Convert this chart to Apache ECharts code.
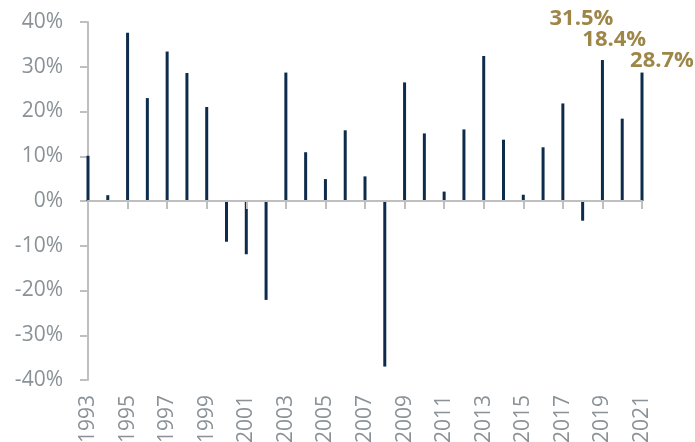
<!DOCTYPE html>
<html>
<head>
<meta charset="utf-8">
<script src="https://cdn.jsdelivr.net/npm/echarts@6/dist/echarts.min.js"></script>
<style>
  html, body { margin: 0; padding: 0; background: #fff; }
  #chart { width: 695px; height: 442px; }
</style>
</head>
<body>
<div id="chart"></div>
<script>
// annual returns, %
const years = ['1993', '1994', '1995', '1996', '1997', '1998', '1999', '2000', '2001', '2002',
  '2003', '2004', '2005', '2006', '2007', '2008', '2009', '2010', '2011', '2012',
  '2013', '2014', '2015', '2016', '2017', '2018', '2019', '2020', '2021'];
const returns = [10.1, 1.3, 37.6, 23.0, 33.4, 28.6, 21.0, -9.1, -11.9, -22.1,
  28.7, 10.9, 4.9, 15.8, 5.5, -37.0, 26.5, 15.1, 2.1, 16.0,
  32.4, 13.7, 1.4, 12.0, 21.8, -4.4, 31.5, 18.4, 28.7];
const labelledYears = ['2019', '2020', '2021'];

const chart = echarts.init(document.getElementById('chart'));

// where each value label sits relative to its bar top
const labelOffsets = {
  '2019': [-21, -25],
  '2020': [-8, -63],
  '2021': [20, 4]
};

const barData = returns.map((v, i) => {
  const y = years[i];
  if (labelledYears.indexOf(y) < 0) return v;
  return {
    value: v,
    label: {
      show: true,
      position: 'top',
      offset: labelOffsets[y],
      formatter: (p) => p.value.toFixed(1) + '%',
      color: '#9d8648',
      fontSize: 22,
      fontWeight: 'bold',
      fontFamily: 'Open Sans'
    }
  };
});

const gray = '#bfbfbf';
const textGray = '#8a9297';

const option = {
  animation: false,
  grid: { left: 88, right: 53, top: 22, bottom: 62, outerBoundsMode: 'none', containLabel: false },
  xAxis: [
    {
      type: 'category',
      data: years,
      boundaryGap: false,
      z: 3,
      axisLine: { show: true, onZero: true, lineStyle: { color: gray, width: 2 } },
      axisTick: { show: true, interval: 1, length: 8, lineStyle: { color: gray, width: 2 } },
      axisLabel: { show: false },
      splitLine: { show: false }
    },
    {
      type: 'category',
      data: years,
      boundaryGap: false,
      position: 'bottom',
      axisLine: { show: false, onZero: false },
      axisTick: { show: false },
      axisLabel: {
        show: true,
        interval: 1,
        rotate: 90,
        margin: 15,
        color: textGray,
        fontSize: 21,
        fontFamily: 'Open Sans'
      },
      splitLine: { show: false }
    }
  ],
  yAxis: {
    type: 'value',
    min: -40,
    max: 40,
    interval: 10,
    axisLine: { show: true, lineStyle: { color: gray, width: 2 } },
    axisTick: { show: true, length: 8, lineStyle: { color: gray, width: 2 } },
    splitLine: { show: false },
    axisLabel: {
      formatter: '{value}%',
      margin: 25,
      color: textGray,
      fontSize: 21,
      fontFamily: 'Open Sans'
    }
  },
  series: [
    {
      type: 'bar',
      data: barData,
      barWidth: 3,
      clip: false,
      itemStyle: { color: '#0d2b4a' }
    }
  ]
};

chart.setOption(option);
</script>
</body>
</html>
